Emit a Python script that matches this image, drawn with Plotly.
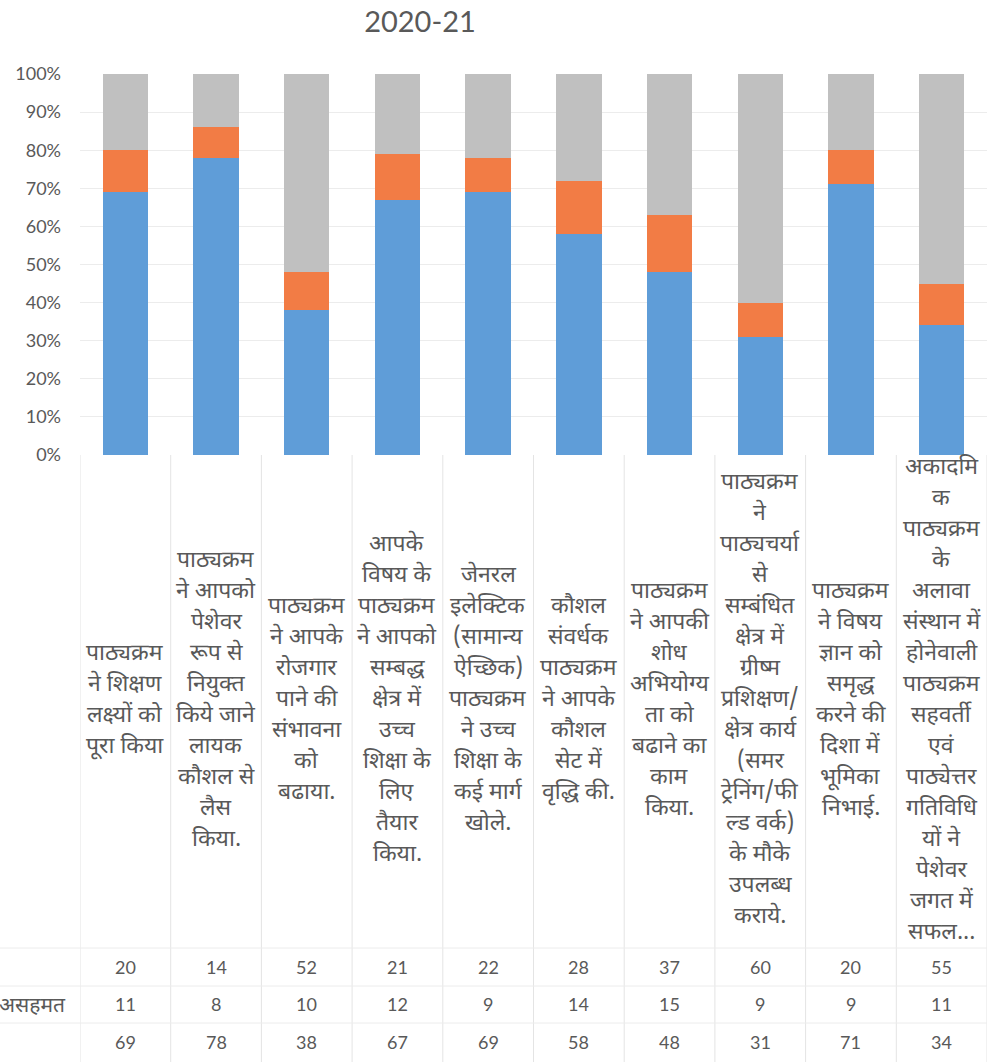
import plotly.graph_objects as go

# Survey items (question text, pre-wrapped into lines)
categories = [
    ["पाठ्यक्रम", "ने शिक्षण", "लक्ष्यों को", "पूरा किया"],
    ["पाठ्यक्रम", "ने आपको", "पेशेवर", "रूप से", "नियुक्त", "किये जाने", "लायक", "कौशल से", "लैस", "किया."],
    ["पाठ्यक्रम", "ने आपके", "रोजगार", "पाने की", "संभावना", "को", "बढाया."],
    ["आपके", "विषय के", "पाठ्यक्रम", "ने आपको", "सम्बद्ध", "क्षेत्र में", "उच्च", "शिक्षा के", "लिए", "तैयार", "किया."],
    ["जेनरल", "इलेक्टिक", "(सामान्य", "ऐच्छिक)", "पाठ्यक्रम", "ने उच्च", "शिक्षा के", "कई मार्ग", "खोले."],
    ["कौशल", "संवर्धक", "पाठ्यक्रम", "ने आपके", "कौशल", "सेट में", "वृद्धि की."],
    ["पाठ्यक्रम", "ने आपकी", "शोध", "अभियोग्य", "ता को", "बढाने का", "काम", "किया."],
    ["पाठ्यक्रम", "ने", "पाठ्यचर्या", "से", "सम्बंधित", "क्षेत्र में", "ग्रीष्म", "प्रशिक्षण/", "क्षेत्र कार्य", "(समर", "ट्रेनिंग/फी", "ल्ड वर्क)", "के मौके", "उपलब्ध", "कराये."],
    ["पाठ्यक्रम", "ने विषय", "ज्ञान को", "समृद्ध", "करने की", "दिशा में", "भूमिका", "निभाई."],
    ["अकादमि", "क", "पाठ्यक्रम", "के", "अलावा", "संस्थान में", "होनेवाली", "पाठ्यक्रम", "सहवर्ती", "एवं", "पाठ्येत्तर", "गतिविधि", "यों ने", "पेशेवर", "जगत में", "सफल..."],
]

# Percent of respondents per item (stack order: bottom to top)
blue_values = [69, 78, 38, 67, 69, 58, 48, 31, 71, 34]
orange_values = [11, 8, 10, 12, 9, 14, 15, 9, 9, 11]   # असहमत
gray_values = [20, 14, 52, 21, 22, 28, 37, 60, 20, 55]

# Data-table rows, top to bottom, with their row labels
table_rows = [("", gray_values), ("असहमत", orange_values), ("", blue_values)]

y_ticks = [0, 10, 20, 30, 40, 50, 60, 70, 80, 90, 100]
y_tick_text = [f"{v}%" for v in y_ticks]
title_text = "2020-21"

BLUE = "#5f9dd8"
ORANGE = "#f27c45"
GRAY = "#c0c0c0"
TEXT = "#595959"
DEV_FONT = "Noto Sans Devanagari, Noto Sans, Lohit Devanagari, sans-serif"
NUM_FONT = "Lato, Open Sans, sans-serif"

xs = list(range(len(categories)))

fig = go.Figure()
for vals, col, name in [(blue_values, BLUE, ""), (orange_values, ORANGE, "असहमत"), (gray_values, GRAY, "")]:
    fig.add_trace(go.Bar(x=xs, y=vals, marker=dict(color=col, line=dict(width=0)),
                         name=name, showlegend=False))

annotations = []
LINE = 31          # px between wrapped label lines
LABEL_CENTER = 245 # px below the axis
for i, lines in enumerate(categories):
    n = len(lines)
    for k, ln in enumerate(lines):
        annotations.append(dict(
            x=i, xref="x", y=0, yref="paper",
            yshift=-LABEL_CENTER + ((n - 1) / 2 - k) * LINE,
            text=ln, showarrow=False, xanchor="center", yanchor="middle",
            font=dict(family=DEV_FONT, size=23, color=TEXT)))

row_shifts = [-512, -549, -587]
for (label, vals), ys in zip(table_rows, row_shifts):
    for i, v in enumerate(vals):
        annotations.append(dict(
            x=i, xref="x", y=0, yref="paper", yshift=ys,
            text=str(v), showarrow=False, xanchor="center", yanchor="middle",
            font=dict(family=NUM_FONT, size=18, color=TEXT)))
    if label:
        annotations.append(dict(
            x=0, xref="paper", xshift=-12, y=0, yref="paper", yshift=ys - 3,
            text=label, showarrow=False, xanchor="right", yanchor="middle",
            font=dict(family=DEV_FONT, size=21, color=TEXT)))

# Data-table borders
shapes = []
for i in range(len(categories) + 1):
    shapes.append(dict(type="line", xref="x", yref="paper",
                       x0=i - 0.5, x1=i - 0.5, y0=0, y1=-607 / 381,
                       line=dict(color="#e4e4e4", width=1)))
for ypx in [948, 986, 1023]:
    shapes.append(dict(type="line", xref="paper", yref="paper",
                       x0=-80 / 907, x1=1, y0=(455 - ypx) / 381, y1=(455 - ypx) / 381,
                       line=dict(color="#ececec", width=1)))

fig.update_layout(
    width=987, height=1062,
    margin=dict(l=80, r=0, t=74, b=607),
    paper_bgcolor="white", plot_bgcolor="white",
    barmode="stack", bargap=0.5,
    title=dict(text=title_text, x=420 / 987, xanchor="center", y=1 - 22 / 1062, yanchor="middle",
               font=dict(family=NUM_FONT, size=29, color=TEXT)),
    xaxis=dict(range=[-0.5, len(categories) - 0.5], showticklabels=False, showgrid=False,
               zeroline=False, showline=False, ticks=""),
    yaxis=dict(range=[0, 100], tickvals=y_ticks, ticktext=y_tick_text, tickmode="array",
               showgrid=True, gridcolor="#ececec", gridwidth=1, zeroline=False, showline=False,
               tickfont=dict(family=NUM_FONT, size=18, color=TEXT), ticklabelstandoff=18),
    annotations=annotations, shapes=shapes,
)

fig.write_html("out.html")
